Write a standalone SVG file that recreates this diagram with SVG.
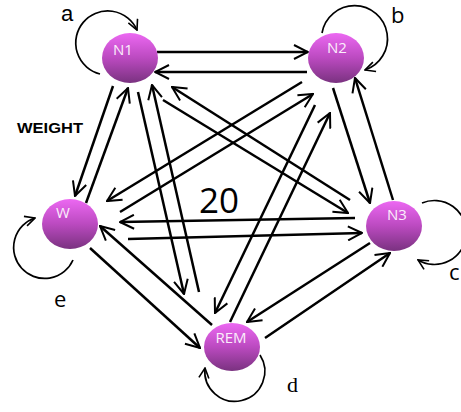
<svg xmlns="http://www.w3.org/2000/svg" width="461" height="412" viewBox="0 0 461 412">
<style>
.e{stroke:#000;stroke-width:2.5;fill:none;marker-end:url(#arr)}
.lp{stroke:#000;stroke-width:1.7;fill:none;marker-end:url(#arrs)}
.nd{fill:url(#g)}
.nl{font-family:"Open Sans","Liberation Sans",sans-serif;font-size:15px;fill:#fbeefb;text-anchor:middle}
.lt{font-family:"Open Sans","Liberation Sans",sans-serif;font-size:22px;fill:#000}
</style>
<defs>
<linearGradient id="g" x1="0" y1="0" x2="0" y2="1">
<stop offset="0" stop-color="#ec68f2"/>
<stop offset="0.5" stop-color="#bb4ac0"/>
<stop offset="1" stop-color="#7a3280"/>
</linearGradient>
<marker id="arr" viewBox="0 0 16 16" refX="15" refY="8" markerWidth="16" markerHeight="16" markerUnits="userSpaceOnUse" orient="auto">
<path d="M1,1 L15,8 L1,15" fill="none" stroke="#000" stroke-width="2"/>
</marker>
<marker id="arrs" viewBox="0 0 12 12" refX="11" refY="6" markerWidth="12" markerHeight="12" markerUnits="userSpaceOnUse" orient="auto">
<path d="M1,1 L11,6 L1,11" fill="none" stroke="#000" stroke-width="1.6"/>
</marker>
</defs>
<rect width="461" height="412" fill="#fff"/>
<g id="connectors">
<line class="e" x1="157" y1="52" x2="308" y2="52"/>
<line class="e" x1="307" y1="72" x2="155" y2="72"/>
<line class="e" x1="333" y1="88" x2="370" y2="203"/>
<line class="e" x1="393" y1="200" x2="355" y2="78"/>
<line class="e" x1="370" y1="243" x2="247" y2="322"/>
<line class="e" x1="265" y1="338" x2="390" y2="253"/>
<line class="e" x1="90" y1="248" x2="200" y2="348"/>
<line class="e" x1="212" y1="325" x2="100" y2="226"/>
<line class="e" x1="113" y1="86" x2="75" y2="196"/>
<line class="e" x1="86" y1="203" x2="128" y2="88"/>
<line class="e" x1="163" y1="100" x2="348" y2="213"/>
<line class="e" x1="350" y1="200" x2="172" y2="87"/>
<line class="e" x1="355" y1="218" x2="120" y2="222"/>
<line class="e" x1="128" y1="239" x2="362" y2="233"/>
<line class="e" x1="120" y1="212" x2="313" y2="94"/>
<line class="e" x1="302" y1="82" x2="107" y2="201"/>
<line class="e" x1="138" y1="92" x2="184" y2="294"/>
<line class="e" x1="199" y1="292" x2="152" y2="85"/>
<line class="e" x1="315" y1="105" x2="215" y2="313"/>
<line class="e" x1="230" y1="322" x2="330" y2="113"/>
<path class="lp" d="M100,74 A32,32 0 1,1 137,30"/>
<path class="lp" d="M322,33 A33,33 0 1,1 365,70"/>
<path class="lp" d="M422,203 A32,32 0 1,1 418,260"/>
<path class="lp" d="M260,355 A30,30 0 1,1 205,368"/>
<path class="lp" d="M73,260 A31,31 0 1,1 35,218"/>
</g>
<g id="N1"><ellipse class="nd" cx="130" cy="58" rx="28" ry="25"/><text class="nl" x="123" y="55">N1</text></g>
<g id="N2"><ellipse class="nd" cx="336" cy="58" rx="28" ry="25"/><text class="nl" x="337" y="53">N2</text></g>
<g id="W"><ellipse class="nd" cx="70" cy="224" rx="28" ry="25"/><text class="nl" x="63" y="218">W</text></g>
<g id="N3"><ellipse class="nd" cx="394" cy="226" rx="28" ry="25"/><text class="nl" x="397" y="220">N3</text></g>
<g id="REM"><ellipse class="nd" cx="232" cy="347" rx="28" ry="24"/><text class="nl" x="231" y="343">REM</text></g>
<g id="labels">
<text x="61" y="21" style="font-family:'Liberation Sans',sans-serif;font-size:22px">a</text>
<text class="lt" x="391" y="23">b</text>
<text class="lt" x="449" y="280">c</text>
<text x="287" y="392" style="font-family:'Liberation Serif',serif;font-size:22px">d</text>
<text class="lt" x="54" y="307">e</text>
<text x="17" y="133" textLength="66" lengthAdjust="spacingAndGlyphs" style="font-family:'Liberation Sans',sans-serif;font-weight:bold;font-size:15px">WEIGHT</text>
<text x="219" y="213" text-anchor="middle" style="font-family:'Open Sans','Liberation Sans',sans-serif;font-size:35px">20</text>
</g>
</svg>
